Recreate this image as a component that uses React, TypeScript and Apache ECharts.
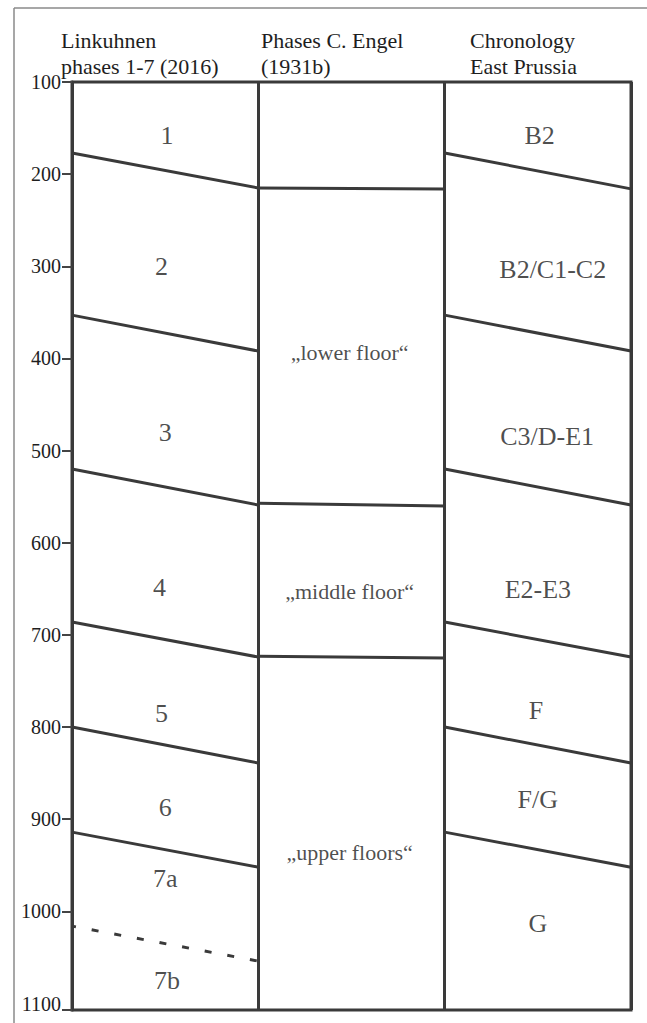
import React, { useEffect, useRef } from "react";
import * as echarts from "echarts";

// ---- data ----
const headerLinkuhnen = ["Linkuhnen", "phases 1-7 (2016)"];
const headerEngel = ["Phases C. Engel", "(1931b)"];
const headerPrussia = ["Chronology", "East Prussia"];

const yMin = 100;
const yMax = 1107;
const yTickValues = [100, 200, 300, 400, 500, 600, 700, 800, 900, 1000, 1107];
const yLabelValues = [100, 200, 300, 400, 500, 600, 700, 800, 900, 1000, 1100];

// boundary lines: [value at left edge, value at right edge] of each column
const linkuhnenBoundaries = [
  [177, 215],
  [353, 392],
  [520, 559],
  [686, 724],
  [800, 839],
  [914, 952],
];
const linkuhnenDashed = [1016, 1054];
const engelBoundaries = [
  [215, 216],
  [557, 560],
  [723, 725],
];
const prussiaBoundaries = [
  [177, 216],
  [353, 392],
  [520, 559],
  [686, 724],
  [800, 839],
  [914, 952],
];

const linkuhnenLabels = ["1", "2", "3", "4", "5", "6", "7a", "7b"];
const linkuhnenLabelX = [0.51, 0.48, 0.5, 0.47, 0.48, 0.5, 0.5, 0.51];
const linkuhnenLabelY = [158, 300, 480, 649, 785, 887, 964, 1075];

const engelLabels = ["\u201Elower floor\u201C", "\u201Emiddle floor\u201C", "\u201Eupper floors\u201C"];
const engelLabelX = [1.49, 1.49, 1.49];
const engelLabelY = [394, 653, 936];

const prussiaLabels = ["B2", "B2/C1-C2", "C3/D-E1", "E2-E3", "F", "F/G", "G"];
const prussiaLabelX = [2.51, 2.58, 2.55, 2.5, 2.49, 2.5, 2.5];
const prussiaLabelY = [158, 304, 485, 651, 782, 879, 1013];

const INK = "#3a3a3a";
const TEXT = "#1e1e1e";
const SERIF = "Liberation Serif";

export default function App() {
  const ref = useRef<HTMLDivElement>(null);

  useEffect(() => {
    document.body.style.margin = "0";
    if (!ref.current) return;
    const chart = echarts.init(ref.current, undefined, { renderer: "svg" });

    const series: any[] = [];
    const addBoundaries = (list: number[][], col: number, dashed = false) => {
      list.forEach((b) => {
        series.push({
          type: "line",
          data: [
            [col, b[0]],
            [col + 1, b[1]],
          ],
          symbol: "none",
          silent: true,
          lineStyle: dashed
            ? { color: INK, width: 3, type: [7, 16], dashOffset: 3 }
            : { color: INK, width: 3 },
        });
      });
    };
    addBoundaries(linkuhnenBoundaries, 0);
    addBoundaries([linkuhnenDashed], 0, true);
    addBoundaries(engelBoundaries, 1);
    addBoundaries(prussiaBoundaries, 2);

    const labelSeries = (names: string[], xs: number[], ys: number[], size: number) => ({
      type: "scatter",
      symbolSize: 0,
      silent: true,
      data: names.map((n, i) => ({ name: n, value: [xs[i], ys[i]] })),
      label: {
        show: true,
        position: "inside",
        formatter: "{b}",
        fontFamily: SERIF,
        fontSize: size,
        color: TEXT,
      },
    });
    series.push(labelSeries(linkuhnenLabels, linkuhnenLabelX, linkuhnenLabelY, 26));
    series.push(labelSeries(engelLabels, engelLabelX, engelLabelY, 22));
    series.push(labelSeries(prussiaLabels, prussiaLabelX, prussiaLabelY, 26));

    const headerText = (lines: string[], x: number) =>
      lines.map((t, i) => ({
        type: "text",
        x,
        y: 40 + i * 26,
        silent: true,
        style: {
          text: t,
          fontFamily: SERIF,
          fontSize: 22,
          fill: TEXT,
          align: "left",
          verticalAlign: "middle",
        },
      }));

    chart.setOption({
      animation: false,
      backgroundColor: "#ffffff",
      grid: {
        left: 72,
        top: 82,
        width: 559,
        height: 928,
        show: true,
        borderColor: INK,
        borderWidth: 3,
        backgroundColor: "transparent",
      },
      xAxis: {
        type: "value",
        min: 0,
        max: 3,
        interval: 1,
        axisLine: { show: false },
        axisTick: { show: false },
        axisLabel: { show: false },
        splitLine: { show: true, lineStyle: { color: INK, width: 3 } },
      },
      yAxis: {
        type: "value",
        inverse: true,
        min: yMin,
        max: yMax,
        interval: 100,
        axisLine: { show: true, lineStyle: { color: INK, width: 3 } },
        axisTick: {
          show: true,
          length: 10,
          customValues: yTickValues,
          lineStyle: { color: "#444", width: 2 },
        },
        axisLabel: {
          customValues: yLabelValues,
          formatter: (v: number) => String(v),
          margin: 11,
          fontFamily: SERIF,
          fontSize: 20,
          color: TEXT,
        },
        splitLine: { show: false },
      },
      graphic: [
        {
          type: "line",
          silent: true,
          shape: { x1: 14, y1: 8, x2: 647, y2: 8 },
          style: { stroke: "#8a8a8a", lineWidth: 1.5 },
        },
        {
          type: "line",
          silent: true,
          shape: { x1: 14, y1: 8, x2: 14, y2: 1023 },
          style: { stroke: "#8a8a8a", lineWidth: 1.5 },
        },
        ...headerText(headerLinkuhnen, 61),
        ...headerText(headerEngel, 261),
        ...headerText(headerPrussia, 470),
      ],
      series,
    });

    return () => chart.dispose();
  }, []);

  return <div ref={ref} style={{ width: 647, height: 1023 }} />;
}
